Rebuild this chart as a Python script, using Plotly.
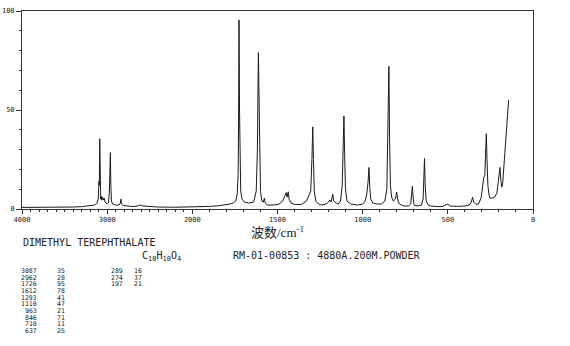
import plotly.graph_objects as go

# ---- spectrum trace (wavenumber cm-1, relative intensity) ----
wavenumber = [
    4000, 3800, 3600, 3400, 3300, 3200, 3150, 3120, 3105, 3097, 3092, 3087, 3082, 3076,
    3070, 3063, 3055, 3045, 3035, 3025, 3000, 2985, 2975, 2968, 2962, 2957, 2950, 2935,
    2900, 2860, 2845, 2839, 2832, 2810, 2750, 2700, 2640, 2610, 2580, 2500, 2400, 2200,
    2000, 1900, 1850, 1800, 1780, 1760, 1745, 1736, 1731, 1728, 1726, 1723, 1721, 1716,
    1708, 1695, 1670, 1640, 1625, 1618, 1614, 1612, 1609, 1605, 1600, 1592, 1583, 1577,
    1572, 1560, 1520, 1490, 1470, 1455, 1449, 1444, 1437, 1432, 1420, 1400, 1360, 1330,
    1313, 1305, 1298, 1293, 1289, 1284, 1275, 1260, 1240, 1215, 1200, 1193, 1185, 1176,
    1170, 1163, 1155, 1145, 1130, 1120, 1115, 1110, 1106, 1101, 1092, 1070, 1030, 1000,
    985, 975, 968, 963, 959, 953, 940, 915, 890, 870, 858, 852, 846, 842, 837, 830, 820,
    808, 800, 795, 785, 760, 730, 718, 712, 708, 704, 698, 680, 655, 645, 640, 637, 633,
    627, 615, 600, 560, 530, 510, 500, 485, 450, 400, 375, 362, 355, 348, 335, 320, 305,
    295, 289, 283, 278, 274, 270, 265, 258, 252, 240, 225, 212, 205, 199, 194, 188, 183,
    178, 172, 165, 158, 150, 143,
]
intensity = [
    0.8, 0.8, 0.9, 1.0, 1.2, 1.6, 2.0, 2.8, 5.0, 14.0, 12.0, 35.5, 10.0, 5.0,
    6.5, 4.5, 6.0, 4.5, 5.5, 3.5, 2.5, 3.0, 8.0, 25.0, 28.5, 12.0, 4.0, 2.5,
    2.0, 2.0, 3.0, 5.0, 2.5, 1.8, 1.5, 1.2, 1.5, 2.0, 1.5, 1.2, 1.0, 0.9,
    1.0, 1.3, 1.6, 2.0, 2.5, 3.0, 4.0, 8.0, 18.0, 50.0, 95.5, 50.0, 22.0, 9.0,
    5.0, 3.5, 3.0, 3.5, 9.0, 30.0, 65.0, 79.0, 60.0, 25.0, 9.0, 4.0, 3.5, 5.5,
    3.0, 2.0, 2.0, 2.5, 4.0, 7.0, 8.3, 6.0, 8.7, 5.0, 3.0, 2.3, 2.3, 4.0,
    7.5, 9.0, 25.0, 41.5, 25.0, 9.0, 4.0, 2.5, 2.0, 2.5, 3.5, 4.5, 3.5, 7.5,
    4.0, 3.7, 3.0, 2.5, 4.0, 12.0, 28.0, 47.0, 28.0, 10.0, 4.0, 2.5, 2.0, 2.5,
    4.0, 8.0, 14.0, 21.0, 12.0, 5.0, 3.0, 2.5, 2.5, 4.0, 10.0, 35.0, 72.0, 35.0, 12.0, 6.0, 4.0,
    5.0, 8.5, 5.0, 2.5, 1.5, 1.5, 2.5, 8.0, 11.5, 6.0, 2.0, 1.5, 2.0, 5.0, 15.0, 25.5, 12.0,
    4.0, 2.0, 1.5, 1.2, 1.3, 2.2, 2.4, 1.5, 1.3, 1.5, 2.0, 3.5, 5.9, 3.5, 2.3, 2.5, 5.5,
    12.0, 16.0, 17.0, 25.0, 38.0, 25.0, 12.0, 7.0, 5.5, 5.5, 6.0, 8.0, 14.0, 20.0, 21.0, 14.0, 11.0,
    13.0, 20.0, 28.0, 38.0, 50.0, 55.0,
]

major_ticks = [4000, 3000, 2000, 1500, 1000, 500, 0]
major_labels = ["4000", "3000", "2000", "1500", "1000", "500", "0"]
minor_ticks = [w for w in range(0, 4001, 100) if w not in major_ticks]

title_text = "DIMETHYL TEREPHTHALATE"
formula_text = "C<sub>10</sub>H<sub>10</sub>O<sub>4</sub>"
info_text = "RM-01-00853 : 4880A.200M.POWDER"
xaxis_title = "波数/cm<sup>-1</sup>"

peak_wn_col1 = ["3087", "2962", "1726", "1612", "1293", "1110", "963", "846", "710", "637"]
peak_int_col1 = ["35", "28", "95", "78", "41", "47", "21", "71", "11", "25"]
peak_wn_col2 = ["289", "274", "197"]
peak_int_col2 = ["16", "37", "21"]


# the axis is drawn at half scale above 2000 cm-1 (as in the original record)
def axis_pos(w):
    return w if w <= 2000 else 2000 + (w - 2000) / 2


x_plot = [axis_pos(w) for w in wavenumber]

W, H = 570, 346
L, R, T, B = 22, 37, 11, 137
PW, PH = W - L - R, H - T - B


def px(xp):
    return (xp - L) / PW


def py(yp):
    return (H - B - yp) / PH


fig = go.Figure()
fig.add_trace(go.Scatter(x=x_plot, y=intensity, mode="lines",
                         line=dict(color="#1a1a1a", width=1), hoverinfo="skip"))

mono = "DejaVu Sans Mono"
axis_col = "#333333"
fig.update_xaxes(
    range=[3000, 0], showgrid=False, zeroline=False, automargin=False,
    showline=True, linecolor=axis_col, linewidth=1, mirror=True,
    tickmode="array", tickvals=[axis_pos(w) for w in major_ticks], ticktext=major_labels,
    ticks="outside", ticklen=4, tickcolor=axis_col, tickwidth=1,
    tickfont=dict(family=mono, size=7, color="#222"),
    minor=dict(tickmode="array", tickvals=[axis_pos(w) for w in minor_ticks],
               ticks="outside", ticklen=2, tickcolor=axis_col),
)
fig.update_yaxes(
    range=[0, 100], showgrid=False, zeroline=False, automargin=False,
    showline=True, linecolor=axis_col, linewidth=1, mirror=True,
    tickmode="array", tickvals=[0, 50, 100], ticktext=["0", "50", "100"],
    ticks="outside", ticklen=5, tickcolor=axis_col, tickwidth=1,
    tickfont=dict(family=mono, size=7, color="#222"),
    minor=dict(tickmode="array", tickvals=[10, 20, 30, 40, 60, 70, 80, 90],
               ticks="outside", ticklen=2, tickcolor=axis_col),
)

ann = []
ann.append(dict(text=xaxis_title, x=px(277), y=py(232), xref="paper", yref="paper",
                xanchor="center", yanchor="middle", showarrow=False,
                font=dict(family="Liberation Serif, Noto Sans CJK SC", size=13, color="#222")))
ann.append(dict(text=title_text, x=px(21), y=py(242), xref="paper", yref="paper",
                xanchor="left", yanchor="middle", showarrow=False,
                font=dict(family=mono, size=10, color="#222")))
ann.append(dict(text=formula_text, x=px(140), y=py(256), xref="paper", yref="paper",
                xanchor="left", yanchor="middle", showarrow=False,
                font=dict(family=mono, size=10, color="#222")))
ann.append(dict(text=info_text, x=px(231), y=py(255), xref="paper", yref="paper",
                xanchor="left", yanchor="middle", showarrow=False,
                font=dict(family=mono, size=10, color="#222")))

row0, dy = 271, 6.67
for cols, xr in ((peak_wn_col1, 38.5), (peak_int_col1, 66.5), (peak_wn_col2, 125), (peak_int_col2, 144)):
    for i, t in enumerate(cols):
        ann.append(dict(text=t, x=px(xr), y=py(row0 + i * dy), xref="paper", yref="paper",
                        xanchor="right", yanchor="middle", showarrow=False,
                        font=dict(family=mono, size=6.5, color="#222")))

fig.update_layout(width=W, height=H, margin=dict(l=L, r=R, t=T, b=B, autoexpand=False),
                  plot_bgcolor="white", paper_bgcolor="white", showlegend=False,
                  annotations=ann)

fig.write_html("out.html")
